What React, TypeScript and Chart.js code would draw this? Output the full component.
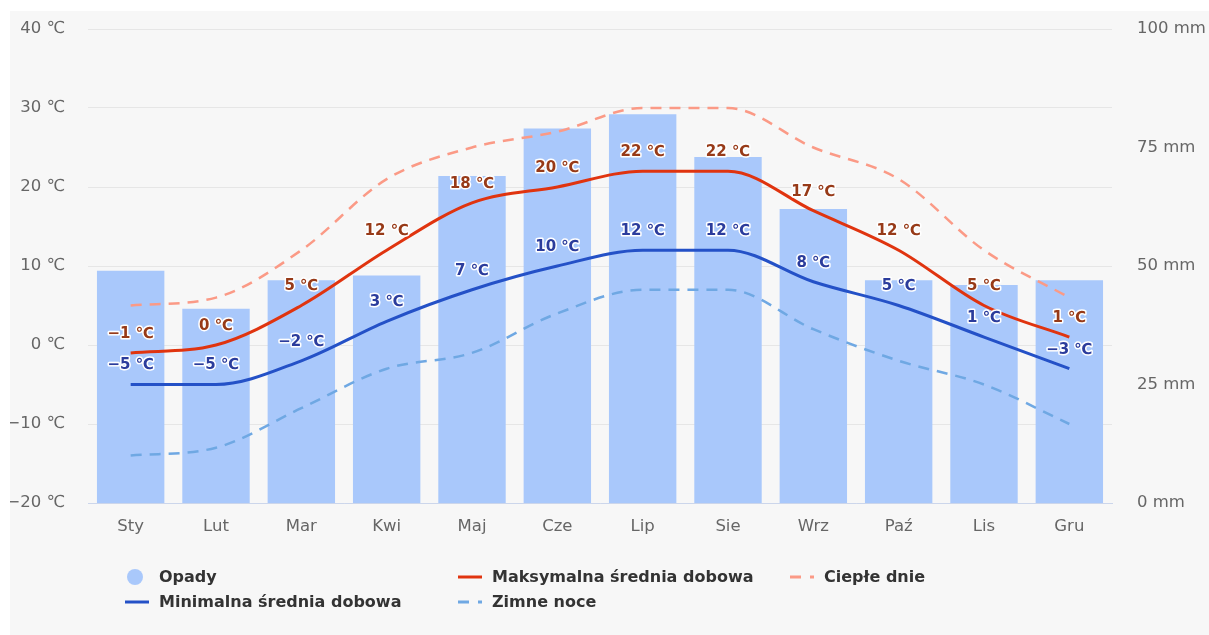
import React, { useEffect, useRef } from 'react';
import { Chart, registerables } from 'chart.js';

Chart.register(...registerables);

const months = ['Sty', 'Lut', 'Mar', 'Kwi', 'Maj', 'Cze', 'Lip', 'Sie', 'Wrz', 'Paź', 'Lis', 'Gru'];
const precipitation = [49, 41, 47, 48, 69, 79, 82, 73, 62, 47, 46, 47];
const maxTemp = [-1, 0, 5, 12, 18, 20, 22, 22, 17, 12, 5, 1];
const minTemp = [-5, -5, -2, 3, 7, 10, 12, 12, 8, 5, 1, -3];
const warmDays = [5, 6, 12, 21, 25, 27, 30, 30, 25, 21, 12, 6];
const coldNights = [-14, -13, -8, -3, -1, 4, 7, 7, 2, -2, -5, -10];
const tempRange = [-20, 40];
const rainRange = [0, 100];

const C_BAR = '#a9c8fb';
const C_MAX = '#e0340f';
const C_MIN = '#2451c7';
const C_WARM = '#fb9a86';
const C_COLD = '#6fa8e3';

const fmt = (v: number) => (v < 0 ? '\u2212' + Math.abs(v) : String(v));
const FONT = '"DejaVu Sans", sans-serif';

const labelColors: Record<number, string> = { 1: '#973a18', 3: '#2b3c9c' };

const dataLabelsPlugin = {
  id: 'dataLabels',
  afterDatasetsDraw(chart: any) {
    const ctx = chart.ctx;
    ctx.save();
    ctx.font = `bold 15px ${FONT}`;
    ctx.textAlign = 'center';
    ctx.textBaseline = 'middle';
    ctx.lineJoin = 'round';
    chart.data.datasets.forEach((ds: any, i: number) => {
      const col = labelColors[i];
      if (!col) return;
      const meta = chart.getDatasetMeta(i);
      meta.data.forEach((pt: any, j: number) => {
        const txt = fmt(ds.data[j]) + ' \u2103';
        const x = pt.x;
        const y = pt.y - 19;
        ctx.lineWidth = 3;
        ctx.strokeStyle = '#ffffff';
        ctx.strokeText(txt, x, y);
        ctx.fillStyle = col;
        ctx.fillText(txt, x, y);
      });
    });
    ctx.restore();
  },
};

const legendPlugin = {
  id: 'customLegend',
  afterDraw(chart: any) {
    const ctx = chart.ctx;
    const ds = chart.data.datasets;
    const items = [
      { i: 0, col: 115, row: 0 },
      { i: 1, col: 448, row: 0 },
      { i: 2, col: 780, row: 0 },
      { i: 3, col: 115, row: 1 },
      { i: 4, col: 448, row: 1 },
    ];
    const rows = [566, 591];
    ctx.save();
    ctx.font = `bold 16px ${FONT}`;
    ctx.textBaseline = 'middle';
    ctx.textAlign = 'left';
    items.forEach((it) => {
      const d = ds[it.i];
      const y = rows[it.row];
      const x = it.col;
      if (d.type === 'line') {
        ctx.beginPath();
        ctx.strokeStyle = d.borderColor;
        ctx.lineWidth = 3;
        ctx.setLineDash(d.borderDash && d.borderDash.length ? [11, 9] : []);
        ctx.moveTo(x, y);
        ctx.lineTo(x + 24, y);
        ctx.stroke();
        ctx.setLineDash([]);
      } else {
        ctx.beginPath();
        ctx.fillStyle = d.backgroundColor;
        ctx.arc(x + 10, y, 8, 0, Math.PI * 2);
        ctx.fill();
      }
      ctx.fillStyle = '#333333';
      ctx.fillText(d.label, x + 34, y + 1);
    });
    ctx.restore();
  },
};

export default function App() {
  const ref = useRef<HTMLCanvasElement | null>(null);

  useEffect(() => {
    if (!ref.current) return;
    const chart = new Chart(ref.current, {
      type: 'bar',
      data: {
        labels: months,
        datasets: [
          {
            type: 'bar',
            label: 'Opady',
            data: precipitation,
            yAxisID: 'y1',
            backgroundColor: C_BAR,
            borderWidth: 0,
            barPercentage: 0.79,
            categoryPercentage: 1,
            order: 10,
          },
          {
            type: 'line',
            label: 'Maksymalna średnia dobowa',
            data: maxTemp,
            yAxisID: 'y',
            borderColor: C_MAX,
            backgroundColor: C_MAX,
            borderWidth: 3,
            pointRadius: 0,
            cubicInterpolationMode: 'monotone',
            borderDash: [],
            order: 2,
          },
          {
            type: 'line',
            label: 'Ciepłe dnie',
            data: warmDays,
            yAxisID: 'y',
            borderColor: C_WARM,
            backgroundColor: C_WARM,
            borderWidth: 2.5,
            pointRadius: 0,
            cubicInterpolationMode: 'monotone',
            borderDash: [11, 8],
            order: 4,
          },
          {
            type: 'line',
            label: 'Minimalna średnia dobowa',
            data: minTemp,
            yAxisID: 'y',
            borderColor: C_MIN,
            backgroundColor: C_MIN,
            borderWidth: 3,
            pointRadius: 0,
            cubicInterpolationMode: 'monotone',
            borderDash: [],
            order: 3,
          },
          {
            type: 'line',
            label: 'Zimne noce',
            data: coldNights,
            yAxisID: 'y',
            borderColor: C_COLD,
            backgroundColor: C_COLD,
            borderWidth: 2.5,
            pointRadius: 0,
            cubicInterpolationMode: 'monotone',
            borderDash: [11, 8],
            order: 5,
          },
        ],
      },
      options: {
        responsive: false,
        animation: false,
        devicePixelRatio: 1,
        layout: { padding: { top: 18, left: 0, right: 0, bottom: 0 } },
        plugins: {
          legend: { display: false },
          tooltip: { enabled: false },
        },
        scales: {
          x: {
            offset: true,
            grid: { display: false, drawTicks: false },
            border: { display: true, color: '#ccd6eb', width: 1 },
            ticks: {
              color: '#666666',
              font: { family: FONT, size: 16.5 },
              padding: 14,
              maxRotation: 0,
            },
            afterFit(scale: any) {
              scale.height = 132;
              scale.paddingLeft = 0;
              scale.paddingRight = 0;
            },
          },
          y: {
            position: 'left',
            min: tempRange[0],
            max: tempRange[1],
            grid: { color: '#e6e6e6', lineWidth: 1, drawTicks: false },
            border: { display: false },
            ticks: {
              stepSize: 10,
              color: '#666666',
              font: { family: FONT, size: 16.5 },
              padding: 23,
              callback: (v: any) => fmt(Number(v)) + ' \u2103',
            },
            afterFit(scale: any) {
              scale.width = 78;
              scale.paddingTop = 0;
              scale.paddingBottom = 0;
            },
          },
          y1: {
            position: 'right',
            min: rainRange[0],
            max: rainRange[1],
            grid: { display: false, drawTicks: false },
            border: { display: false },
            ticks: {
              stepSize: 25,
              color: '#666666',
              font: { family: FONT, size: 16.5 },
              padding: 25,
              callback: (v: any) => v + ' mm',
            },
            afterFit(scale: any) {
              scale.width = 97;
              scale.paddingTop = 0;
              scale.paddingBottom = 0;
            },
          },
        },
      },
      plugins: [dataLabelsPlugin, legendPlugin],
    } as any);
    return () => chart.destroy();
  }, []);

  return (
    <div
      style={{
        position: 'fixed',
        left: 0,
        top: 0,
        width: 1209,
        height: 635,
        background: '#ffffff',
        overflow: 'hidden',
      }}
    >
      <div
        style={{
          position: 'absolute',
          left: 10,
          top: 11,
          width: 1199,
          height: 624,
          background: '#f7f7f7',
        }}
      >
        <canvas ref={ref} width={1199} height={624} style={{ display: 'block' }} />
      </div>
    </div>
  );
}
